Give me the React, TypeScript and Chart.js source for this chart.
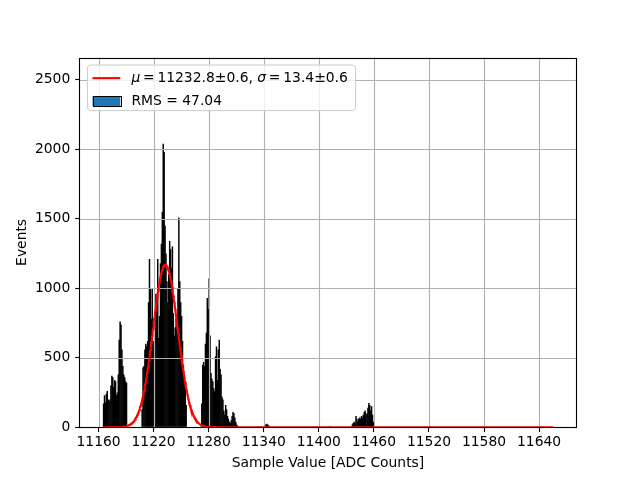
import React, { useEffect, useRef } from "react";
import { Chart, registerables } from "chart.js";

Chart.register(...registerables);

// ---- axes ----
const X_MIN = 11139.8;
const X_MAX = 11680.2;
const Y_MIN = 0;
const Y_MAX = 2660;
const X_TICKS = [11160, 11220, 11280, 11340, 11400, 11460, 11520, 11580, 11640];
const Y_TICKS = [0, 500, 1000, 1500, 2000, 2500];
const X_LABEL = "Sample Value [ADC Counts]";
const Y_LABEL = "Events";

// ---- histogram (1 ADC count per bin; bins not listed are empty) ----
const HIST_START = 11164;
const HIST_END = 11656;

const PEAK_A_START = 11165;
const PEAK_A = [170, 230, 180, 240, 260, 200, 190, 200, 300, 370, 360, 290, 340, 330, 230, 250, 380, 630, 760, 740, 560, 440, 380, 360, 330, 320];

const PEAK_B_START = 11207;
const PEAK_B = [130, 430, 440, 560, 600, 580, 620, 900, 1210, 1000, 780, 1000, 620, 580, 700, 960, 900, 1210, 640, 800, 1180, 1320, 1550, 2040, 1980, 1450, 1250, 1050, 900, 1100, 1340, 1280, 1150, 1300, 820, 660, 720, 780, 700, 1000, 1510, 1050, 900, 800, 620, 450, 380, 280, 160];

const PEAK_C_START = 11272;
const PEAK_C = [170, 450, 470, 440, 600, 680, 930, 850, 1070, 660, 390, 350, 330, 280, 260, 510, 580, 340, 560, 630, 420, 380, 220, 200, 120, 90, 160, 130, 80, 60, 40, 30, 50, 80, 110, 100, 70, 40, 20, 10];

const BUMP_D_START = 11340;
const BUMP_D = [8, 15, 22, 25, 18, 12, 6];

const BUMP_E_START = 11411;
const BUMP_E = [6, 8];

const PEAK_F_START = 11436;
const PEAK_F = [20, 30, 40, 30, 80, 60, 40, 60, 70, 60, 80, 70, 90, 110, 120, 90, 100, 140, 175, 160, 120, 150, 90, 40];

// ---- Gaussian fit ----
const FIT_MU = 11232.8;
const FIT_MU_ERR = 0.6;
const FIT_SIGMA = 13.4;
const FIT_SIGMA_ERR = 0.6;
const FIT_AMP = 1170;
const FIT_MIN = 11164.4;
const FIT_MAX = 11655.6;
const FIT_SAMPLES = 1000;
const RMS = 47.04;

const FS = 13.89;
const FONT_FAMILY = '"DejaVu Sans", sans-serif';
const TS = "\u2009"; // thin space, as in math-text spacing around "="

function buildHistogram() {
  const counts = new Map<number, number>();
  const parts: [number, number[]][] = [
    [PEAK_A_START, PEAK_A],
    [PEAK_B_START, PEAK_B],
    [PEAK_C_START, PEAK_C],
    [BUMP_D_START, BUMP_D],
    [BUMP_E_START, BUMP_E],
    [PEAK_F_START, PEAK_F],
  ];
  for (const [start, arr] of parts) arr.forEach((v, i) => counts.set(start + i, v));
  const out: { x: number; y: number }[] = [];
  for (let b = HIST_START; b < HIST_END; b++) out.push({ x: b + 0.5, y: counts.get(b) ?? 0 });
  return out;
}

function buildFit() {
  const out: { x: number; y: number }[] = [];
  for (let i = 0; i <= FIT_SAMPLES; i++) {
    const x = FIT_MIN + ((FIT_MAX - FIT_MIN) * i) / FIT_SAMPLES;
    const z = (x - FIT_MU) / FIT_SIGMA;
    out.push({ x, y: FIT_AMP * Math.exp(-0.5 * z * z) });
  }
  return out;
}

const mplPlugin = {
  id: "mplStyle",
  afterDatasetDraw(chart: any, args: any) {
    if (args.index !== 0) return;
    const { ctx, chartArea: ca, scales } = chart;
    const x = scales.x;
    const y = scales.y;
    ctx.save();
    ctx.strokeStyle = "#b0b0b0";
    ctx.lineWidth = 1.11;
    ctx.beginPath();
    for (const t of x.ticks) {
      const px = Math.round(x.getPixelForValue(t.value)) + 0.5;
      ctx.moveTo(px, ca.top);
      ctx.lineTo(px, ca.bottom);
    }
    for (const t of y.ticks) {
      const py = Math.round(y.getPixelForValue(t.value)) + 0.5;
      ctx.moveTo(ca.left, py);
      ctx.lineTo(ca.right, py);
    }
    ctx.stroke();
    ctx.restore();
  },
  afterDatasetsDraw(chart: any) {
    const { ctx, chartArea: ca } = chart;
    ctx.save();
    ctx.strokeStyle = "#000";
    ctx.lineWidth = 1.11;
    const l = Math.round(ca.left) - 0.5;
    const t = Math.round(ca.top) + 0.5;
    const r = Math.round(ca.right) + 0.5;
    const b = Math.round(ca.bottom) + 0.5;
    ctx.strokeRect(l, t, r - l, b - t);
    ctx.restore();
  },
  afterDraw(chart: any) {
    const { ctx, chartArea: ca } = chart;
    const normal = `${FS}px ${FONT_FAMILY}`;
    const italic = `italic ${FS}px ${FONT_FAMILY}`;
    const segs: [string, boolean][] = [
      ["μ", true],
      [`${TS}=${TS}${FIT_MU.toFixed(1)}±${FIT_MU_ERR.toFixed(1)}, `, false],
      ["σ", true],
      [`${TS}=${TS}${FIT_SIGMA.toFixed(1)}±${FIT_SIGMA_ERR.toFixed(1)}`, false],
    ];
    ctx.save();
    let w1 = 0;
    for (const [s, it] of segs) {
      ctx.font = it ? italic : normal;
      w1 += ctx.measureText(s).width;
    }
    ctx.font = normal;
    const label2 = `RMS = ${RMS.toFixed(2)}`;
    const w2 = ctx.measureText(label2).width;

    const x0 = ca.left + 0.5 * FS;
    const y0 = ca.top + 0.5 * FS;
    const handleX = x0 + 0.4 * FS;
    const handleW = 2 * FS;
    const textX = handleX + handleW + 0.8 * FS;
    const boxW = textX - x0 + Math.max(w1, w2) + 0.52 * FS;
    const boxH = 3.28 * FS;
    const row1 = y0 + 0.98 * FS;
    const row2 = y0 + 2.63 * FS;

    ctx.beginPath();
    if ((ctx as any).roundRect) (ctx as any).roundRect(x0 + 0.5, y0 + 0.5, boxW, boxH, 3);
    else ctx.rect(x0 + 0.5, y0 + 0.5, boxW, boxH);
    ctx.fillStyle = "rgba(255,255,255,0.8)";
    ctx.fill();
    ctx.strokeStyle = "#cccccc";
    ctx.lineWidth = 1;
    ctx.stroke();

    // line handle
    ctx.beginPath();
    ctx.strokeStyle = "#ff0000";
    ctx.lineWidth = 2.1;
    ctx.moveTo(handleX, row1);
    ctx.lineTo(handleX + handleW, row1);
    ctx.stroke();

    // patch handle
    const ph = 0.7 * FS;
    ctx.fillStyle = "#1f77b4";
    ctx.fillRect(handleX, row2 - ph / 2, handleW, ph);
    ctx.strokeStyle = "#000";
    ctx.lineWidth = 1;
    ctx.strokeRect(Math.round(handleX) + 0.5, Math.round(row2 - ph / 2) + 0.5, Math.round(handleW), Math.round(ph));

    ctx.fillStyle = "#000";
    ctx.textBaseline = "middle";
    ctx.textAlign = "left";
    let cx = textX;
    for (const [s, it] of segs) {
      ctx.font = it ? italic : normal;
      ctx.fillText(s, cx, row1);
      cx += ctx.measureText(s).width;
    }
    ctx.font = normal;
    ctx.fillText(label2, textX, row2);
    ctx.restore();
  },
};

export default function App() {
  const ref = useRef<HTMLCanvasElement | null>(null);
  useEffect(() => {
    if (!ref.current) return;
    const font = { family: FONT_FAMILY, size: FS };
    const chart = new Chart(ref.current, {
      type: "bar",
      data: {
        datasets: [
          {
            type: "bar",
            label: `RMS = ${RMS}`,
            data: buildHistogram() as any,
            backgroundColor: "#000000",
            borderWidth: 0,
            barPercentage: 1.6,
            categoryPercentage: 1,
            inflateAmount: 0,
            grouped: false,
            order: 2,
          } as any,
          {
            type: "line",
            label: "fit",
            data: buildFit() as any,
            borderColor: "#ff0000",
            borderWidth: 2.1,
            pointRadius: 0,
            fill: false,
            tension: 0,
            order: 1,
          } as any,
        ],
      },
      options: {
        animation: false,
        responsive: false,
        devicePixelRatio: 1,
        layout: { padding: { left: 0, top: 57.6, right: 64, bottom: 0 } },
        plugins: { legend: { display: false }, tooltip: { enabled: false } },
        scales: {
          x: {
            type: "linear",
            min: X_MIN,
            max: X_MAX,
            offset: false,
            afterBuildTicks: (axis: any) => {
              axis.ticks = X_TICKS.map((v) => ({ value: v }));
            },
            afterFit: (axis: any) => {
              axis.height = 52.8;
            },
            grid: { drawOnChartArea: false, offset: false, color: "#b0b0b0", tickColor: "#000", tickLength: 4.86, tickWidth: 1.11 },
            border: { display: false },
            ticks: { font, color: "#000", padding: 2, maxRotation: 0, autoSkip: false, callback: (v: any) => String(v) },
            title: { display: true, text: X_LABEL, font, color: "#000", padding: { top: 0, bottom: 8.7 } },
          },
          y: {
            type: "linear",
            min: Y_MIN,
            max: Y_MAX,
            afterBuildTicks: (axis: any) => {
              axis.ticks = Y_TICKS.map((v) => ({ value: v }));
            },
            afterFit: (axis: any) => {
              axis.width = 80;
            },
            grid: { drawOnChartArea: false, color: "#b0b0b0", tickColor: "#000", tickLength: 4.86, tickWidth: 1.11 },
            border: { display: false },
            ticks: { font, color: "#000", padding: 4.86, callback: (v: any) => String(v) },
            title: { display: true, text: Y_LABEL, font, color: "#000", padding: { top: 13.7, bottom: 0 } },
          },
        },
      } as any,
      plugins: [mplPlugin],
    });
    return () => chart.destroy();
  }, []);
  return (
    <div style={{ position: "fixed", left: 0, top: 0, width: 640, height: 480, background: "#fff" }}>
      <canvas ref={ref} width={640} height={480} style={{ display: "block" }} />
    </div>
  );
}
